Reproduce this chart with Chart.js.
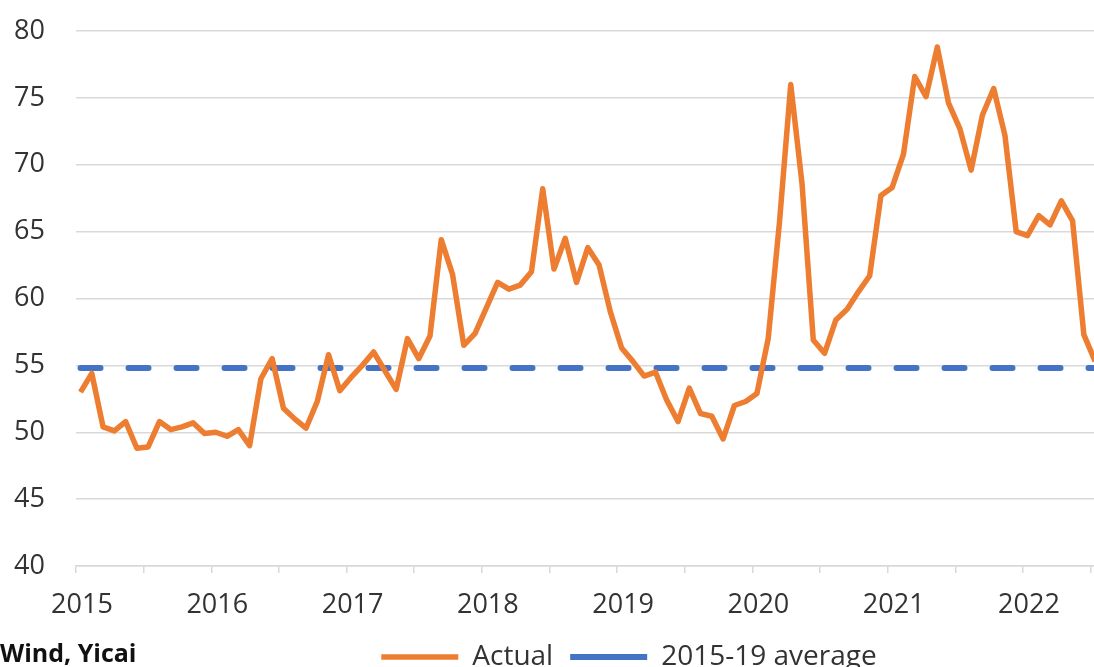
<!DOCTYPE html>
<html lang="en">
<head>
    <meta charset="UTF-8">
    <meta name="viewport" content="width=device-width, initial-scale=1.0">
    <title>Actual vs 2015-19 average</title>
    <script src="https://cdn.jsdelivr.net/npm/chart.js"></script>
    <style>
        html, body { margin: 0; padding: 0; background: #fff; }
    </style>
</head>
<body>
    <canvas id="myChart" width="1094" height="667"></canvas>

    <script>
        // monthly readings, Jan 2015 .. Jul 2022
        const years = ['2015', '2016', '2017', '2018', '2019', '2020', '2021', '2022'];
        const actual = [
            53.0, 54.4, 50.4, 50.1, 50.8, 48.8, 48.9, 50.8, 50.2, 50.4, 50.7, 49.9, // 2015
            50.0, 49.7, 50.2, 49.0, 54.0, 55.5, 51.8, 51.0, 50.3, 52.3, 55.8, 53.1, // 2016
            54.1, 55.0, 56.0, 54.6, 53.2, 57.0, 55.5, 57.2, 64.4, 61.8, 56.5, 57.4, // 2017
            59.3, 61.2, 60.7, 61.0, 62.0, 68.2, 62.2, 64.5, 61.2, 63.8, 62.5, 59.0, // 2018
            56.3, 55.3, 54.2, 54.5, 52.4, 50.8, 53.3, 51.4, 51.2, 49.5, 52.0, 52.3, // 2019
            52.9, 57.0, 65.7, 76.0, 68.6, 56.9, 55.9, 58.4, 59.2, 60.5, 61.7, 67.7, // 2020
            68.3, 70.8, 76.6, 75.1, 78.8, 74.6, 72.7, 69.6, 73.7, 75.7, 72.2, 65.0, // 2021
            64.7, 66.2, 65.5, 67.3, 65.8, 57.3, 55.3                                // 2022
        ];
        const average = 54.8; // 2015-19 average
        const yTicks = [40, 45, 50, 55, 60, 65, 70, 75, 80];
        const sourceNote = 'Wind, Yicai';

        // half-year tick marks, labels on the year ones
        const xStart = -0.4;
        const xTicks = [];
        for (let k = 0; k <= 15; k++) xTicks.push(xStart + k * 6);

        const font = { family: '"Open Sans", sans-serif', size: 27 };
        const legendFont = { family: '"Open Sans", sans-serif', size: 28 };
        const textColor = '#333333';
        const gridColor = '#d9d9d9';

        Chart.defaults.font.family = font.family;

        const legendShift = {
            id: 'legendShift',
            afterLayout(chart) {
                chart.legend.left += 82;
                chart.legend.right += 82;
            }
        };

        const sourceText = {
            id: 'sourceText',
            afterDraw(chart) {
                const c = chart.ctx;
                c.save();
                c.font = 'bold 25px "Open Sans", sans-serif';
                c.fillStyle = '#111';
                c.textBaseline = 'middle';
                c.fillText(sourceNote, 0, 655);
                c.restore();
            }
        };

        const ctx = document.getElementById('myChart').getContext('2d');

        const myChart = new Chart(ctx, {
            type: 'line',
            data: {
                datasets: [
                    {
                        label: 'Actual',
                        data: actual.map((v, i) => ({ x: i, y: v })),
                        borderColor: '#ED7D31',
                        backgroundColor: '#ED7D31',
                        borderWidth: 5.5,
                        borderJoinStyle: 'round',
                        pointRadius: 0,
                        tension: 0
                    },
                    {
                        label: '2015-19 average',
                        data: actual.map((v, i) => ({ x: i, y: average })),
                        borderColor: '#4472C4',
                        backgroundColor: '#4472C4',
                        borderWidth: 6,
                        borderDash: [20, 28],
                        borderCapStyle: 'round',
                        pointRadius: 0,
                        tension: 0
                    }
                ]
            },
            options: {
                responsive: false,
                animation: false,
                layout: {
                    padding: { top: 31, left: 0, right: 0, bottom: -14 }
                },
                plugins: {
                    tooltip: { enabled: false },
                    legend: {
                        position: 'bottom',
                        labels: {
                            usePointStyle: true,
                            pointStyle: 'line',
                            pointStyleWidth: 77,
                            padding: 17,
                            color: textColor,
                            font: legendFont
                        }
                    }
                },
                scales: {
                    x: {
                        type: 'linear',
                        min: xStart,
                        max: 89.9,
                        afterBuildTicks: (scale) => {
                            scale.ticks = xTicks.map(v => ({ value: v }));
                        },
                        afterFit: (scale) => {
                            scale.height = 60;
                            scale.paddingLeft = 0;
                            scale.paddingRight = 0;
                        },
                        ticks: {
                            autoSkip: false,
                            maxRotation: 0,
                            labelOffset: 6,
                            padding: 16,
                            color: textColor,
                            font: font,
                            callback: (value, index) => (index % 2 === 0 ? years[index / 2] : '')
                        },
                        grid: {
                            drawOnChartArea: false,
                            tickLength: 7,
                            color: gridColor,
                            lineWidth: 1.5
                        },
                        border: { color: gridColor, width: 1.5 }
                    },
                    y: {
                        min: 40,
                        max: 80,
                        afterBuildTicks: (scale) => {
                            scale.ticks = yTicks.map(v => ({ value: v }));
                        },
                        afterFit: (scale) => {
                            scale.width = 76;
                            scale.paddingTop = 0;
                            scale.paddingBottom = 0;
                        },
                        ticks: {
                            padding: 31,
                            color: textColor,
                            font: font
                        },
                        grid: {
                            color: gridColor,
                            lineWidth: 1.5,
                            drawTicks: false
                        },
                        border: { display: false }
                    }
                }
            },
            plugins: [legendShift, sourceText]
        });
    </script>
</body>
</html>
